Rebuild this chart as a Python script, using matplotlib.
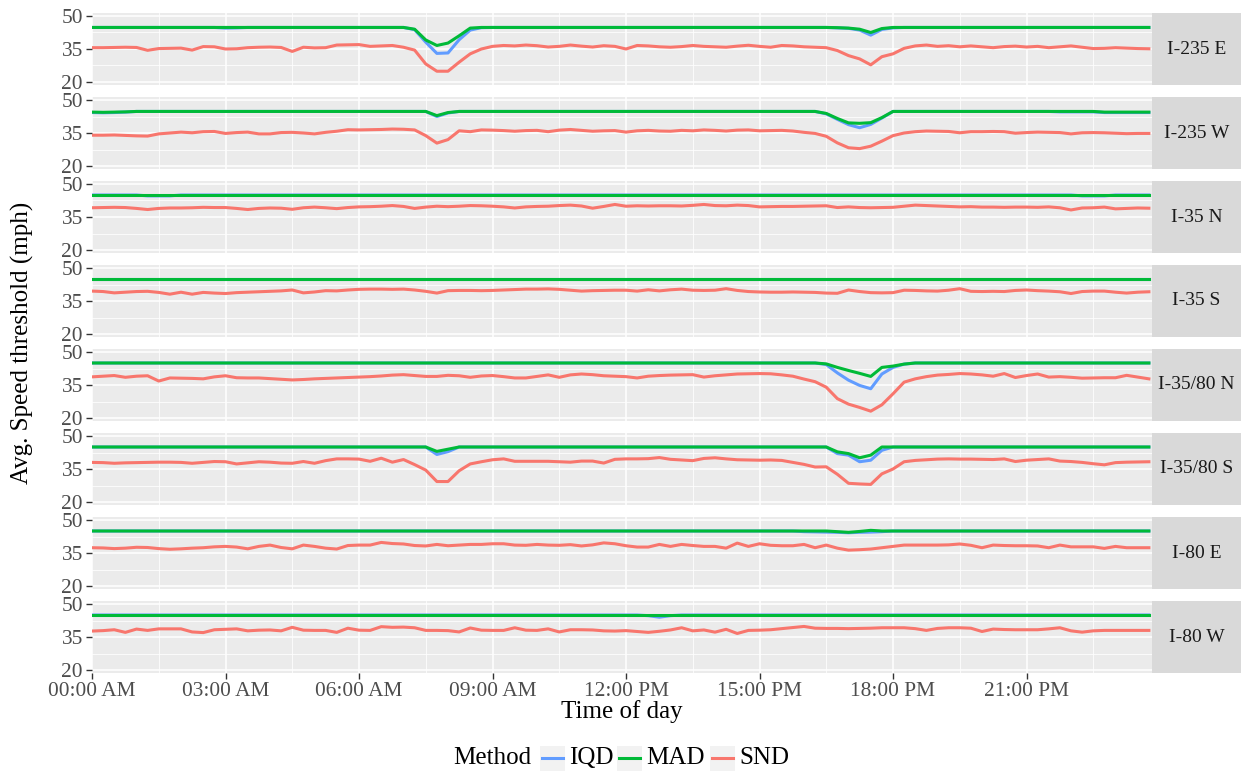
import numpy as np
import matplotlib
matplotlib.use('Agg')
from matplotlib import rcParams

rcParams['font.family'] = 'serif'
rcParams['font.serif'] = ['Liberation Serif', 'DejaVu Serif']

import matplotlib.pyplot as plt
from matplotlib.patches import Rectangle
from matplotlib.lines import Line2D

# ############################################################
# data: 15 minute bins over one day, hours since midnight
# ############################################################
time_hours = np.arange(96) * 0.25

tick_hours = [0, 3, 6, 9, 12, 15, 18, 21]
tick_labels = ['00:00 AM', '03:00 AM', '06:00 AM', '09:00 AM',
               '12:00 PM', '15:00 PM', '18:00 PM', '21:00 PM']
minor_hours = [1.5, 4.5, 7.5, 10.5, 13.5, 16.5, 19.5, 22.5]

roads = ['I-235 E', 'I-235 W', 'I-35 N', 'I-35 S',
         'I-35/80 N', 'I-35/80 S', 'I-80 E', 'I-80 W']
methods = ['IQD', 'MAD', 'SND']
method_colors = ['#619CFF', '#00BA38', '#F8766D']

# ---- I-235 E
snd_i235e = [35.6, 35.6, 35.7, 35.8, 35.7, 34.4, 35.2, 35.3, 35.4, 34.5, 36.1, 36.0,
             35.0, 35.1, 35.6, 35.8, 35.9, 35.7, 33.9, 35.8, 35.5, 35.6, 36.8, 36.9,
             37.0, 36.2, 36.4, 36.6, 35.8, 34.5, 28.2, 24.9, 24.9, 29.0, 32.8, 35.0,
             36.2, 36.6, 36.4, 36.8, 36.5, 35.9, 36.2, 36.8, 36.3, 35.9, 36.5, 36.2,
             35.0, 36.6, 36.4, 36.0, 35.8, 36.1, 36.6, 36.2, 36.0, 35.8, 36.3, 36.7,
             36.2, 35.8, 36.6, 36.4, 36.0, 35.8, 35.6, 34.3, 32.0, 30.5, 27.8, 31.5,
             32.8, 35.3, 36.4, 36.8, 36.2, 36.5, 36.0, 36.4, 36.0, 35.6, 36.1, 36.3,
             35.9, 36.2, 35.6, 36.0, 36.4, 35.8, 35.2, 35.3, 35.6, 35.4, 35.2, 35.1]
mad_i235e = [44.8, 44.8, 44.8, 44.8, 44.8, 44.8, 44.8, 44.8, 44.8, 44.8, 44.8, 44.8,
             44.8, 44.8, 44.8, 44.8, 44.8, 44.8, 44.8, 44.8, 44.8, 44.8, 44.8, 44.8,
             44.8, 44.8, 44.8, 44.8, 44.8, 44.0, 39.1, 36.6, 37.7, 41.0, 44.5, 44.8,
             44.8, 44.8, 44.8, 44.8, 44.8, 44.8, 44.8, 44.8, 44.8, 44.8, 44.8, 44.8,
             44.8, 44.8, 44.8, 44.8, 44.8, 44.8, 44.8, 44.8, 44.8, 44.8, 44.8, 44.8,
             44.8, 44.8, 44.8, 44.8, 44.8, 44.8, 44.8, 44.7, 44.5, 44.0, 42.5, 44.3,
             44.8, 44.8, 44.8, 44.8, 44.8, 44.8, 44.8, 44.8, 44.8, 44.8, 44.8, 44.8,
             44.8, 44.8, 44.8, 44.8, 44.8, 44.8, 44.8, 44.8, 44.8, 44.8, 44.8, 44.8]
iqd_i235e = [44.8, 44.8, 44.8, 44.8, 44.8, 44.8, 44.8, 44.8, 44.8, 44.8, 44.8, 44.8,
             44.5, 44.6, 44.8, 44.8, 44.8, 44.8, 44.8, 44.8, 44.8, 44.8, 44.8, 44.8,
             44.8, 44.8, 44.8, 44.8, 44.8, 43.8, 38.1, 33.0, 33.2, 39.2, 43.6, 44.7,
             44.8, 44.8, 44.8, 44.8, 44.8, 44.8, 44.8, 44.8, 44.8, 44.8, 44.8, 44.8,
             44.8, 44.8, 44.8, 44.8, 44.8, 44.8, 44.8, 44.8, 44.8, 44.8, 44.8, 44.8,
             44.8, 44.8, 44.8, 44.8, 44.8, 44.8, 44.8, 44.6, 44.4, 43.6, 41.3, 43.9,
             44.6, 44.8, 44.8, 44.8, 44.8, 44.8, 44.8, 44.8, 44.8, 44.8, 44.8, 44.8,
             44.8, 44.8, 44.8, 44.8, 44.8, 44.8, 44.8, 44.8, 44.8, 44.8, 44.8, 44.8]

# ---- I-235 W
snd_i235w = [34.0, 34.0, 34.1, 33.9, 33.7, 33.6, 34.6, 35.0, 35.4, 35.1, 35.6, 35.7,
             34.8, 35.2, 35.4, 34.6, 34.6, 35.2, 35.3, 35.0, 34.6, 35.3, 35.8, 36.5,
             36.4, 36.5, 36.6, 36.8, 36.7, 36.4, 33.8, 30.4, 32.0, 36.0, 35.6, 36.4,
             36.3, 36.1, 35.8, 36.1, 36.2, 35.6, 36.3, 36.6, 36.2, 35.8, 36.0, 36.1,
             35.4, 36.0, 36.2, 35.9, 35.8, 36.2, 36.0, 36.4, 36.2, 35.9, 36.3, 36.4,
             36.0, 36.1, 36.2, 35.9, 35.3, 34.8, 33.5, 30.5, 28.3, 27.9, 29.0, 31.3,
             33.8, 35.0, 35.6, 35.9, 35.8, 35.7, 35.1, 35.6, 35.6, 35.7, 35.6, 34.9,
             35.2, 35.4, 35.3, 35.2, 34.6, 35.1, 35.2, 35.1, 34.9, 34.7, 34.8, 34.8]
mad_i235w = [44.5, 44.4, 44.5, 44.6, 44.8, 44.8, 44.8, 44.8, 44.8, 44.8, 44.8, 44.8,
             44.8, 44.8, 44.8, 44.8, 44.8, 44.8, 44.8, 44.8, 44.8, 44.8, 44.8, 44.8,
             44.8, 44.8, 44.8, 44.8, 44.8, 44.8, 44.8, 42.9, 44.3, 44.8, 44.8, 44.8,
             44.8, 44.8, 44.8, 44.8, 44.8, 44.8, 44.8, 44.8, 44.8, 44.8, 44.8, 44.8,
             44.8, 44.8, 44.8, 44.8, 44.8, 44.8, 44.8, 44.8, 44.8, 44.8, 44.8, 44.8,
             44.8, 44.8, 44.8, 44.8, 44.8, 44.8, 43.9, 41.6, 39.6, 39.4, 39.7, 42.0,
             44.8, 44.8, 44.8, 44.8, 44.8, 44.8, 44.8, 44.8, 44.8, 44.8, 44.8, 44.8,
             44.8, 44.8, 44.8, 44.8, 44.8, 44.8, 44.8, 44.5, 44.5, 44.5, 44.5, 44.5]
iqd_i235w = [44.3, 44.2, 44.3, 44.5, 44.8, 44.8, 44.8, 44.8, 44.8, 44.8, 44.8, 44.8,
             44.8, 44.8, 44.8, 44.8, 44.8, 44.8, 44.8, 44.8, 44.8, 44.8, 44.8, 44.8,
             44.8, 44.8, 44.8, 44.8, 44.8, 44.8, 44.8, 42.5, 44.1, 44.8, 44.8, 44.8,
             44.8, 44.8, 44.8, 44.8, 44.8, 44.8, 44.8, 44.8, 44.8, 44.8, 44.8, 44.8,
             44.8, 44.8, 44.8, 44.8, 44.8, 44.8, 44.8, 44.8, 44.8, 44.8, 44.8, 44.8,
             44.8, 44.8, 44.8, 44.8, 44.8, 44.8, 43.7, 41.2, 38.8, 37.4, 38.9, 41.8,
             44.8, 44.8, 44.8, 44.8, 44.8, 44.8, 44.8, 44.8, 44.8, 44.8, 44.8, 44.8,
             44.8, 44.8, 44.8, 44.6, 44.6, 44.6, 44.6, 44.3, 44.3, 44.3, 44.3, 44.3]

# ---- I-35 N
snd_i35n = [39.2, 39.3, 39.4, 39.3, 38.9, 38.4, 38.9, 39.1, 39.1, 39.2, 39.4, 39.3,
            39.3, 38.9, 38.4, 38.9, 39.1, 39.0, 38.5, 39.2, 39.5, 39.2, 38.8, 39.3,
            39.6, 39.7, 39.9, 40.2, 39.8, 38.9, 39.5, 39.9, 39.7, 39.9, 40.2, 40.1,
            39.9, 39.6, 39.1, 39.6, 39.8, 39.9, 40.2, 40.4, 40.0, 39.0, 39.8, 40.7,
            39.9, 40.1, 40.0, 40.1, 40.1, 40.0, 40.3, 40.7, 40.2, 40.1, 40.4, 40.2,
            39.6, 39.7, 39.8, 39.8, 39.9, 40.0, 40.1, 39.3, 39.6, 39.3, 39.2, 39.3,
            39.4, 39.9, 40.4, 40.2, 40.0, 39.8, 39.6, 39.7, 39.5, 39.5, 39.4, 39.5,
            39.5, 39.4, 39.6, 39.2, 38.2, 39.1, 39.2, 39.5, 38.7, 38.9, 39.1, 39.0]
mad_i35n = [45.0] * 96
iqd_i35n = [45.0, 45.0, 45.0, 45.0, 45.0, 44.6, 44.6, 44.6, 45.0, 45.0, 45.0, 45.0,
            45.0, 45.0, 45.0, 45.0, 45.0, 45.0, 45.0, 45.0, 45.0, 45.0, 45.0, 45.0,
            45.0, 45.0, 45.0, 45.0, 45.0, 45.0, 45.0, 45.0, 45.0, 45.0, 45.0, 45.0,
            45.0, 45.0, 45.0, 45.0, 45.0, 45.0, 45.0, 45.0, 45.0, 45.0, 45.0, 45.0,
            45.0, 45.0, 45.0, 45.0, 45.0, 45.0, 45.0, 45.0, 45.0, 45.0, 45.0, 45.0,
            45.0, 45.0, 45.0, 45.0, 45.0, 45.0, 45.0, 45.0, 45.0, 45.0, 45.0, 45.0,
            45.0, 45.0, 45.0, 45.0, 45.0, 45.0, 45.0, 45.0, 45.0, 45.0, 45.0, 45.0,
            45.0, 45.0, 45.0, 45.0, 45.0, 44.6, 44.6, 44.6, 45.0, 45.0, 45.0, 45.0]

# ---- I-35 S
snd_i35s = [39.5, 39.3, 38.7, 39.0, 39.3, 39.4, 38.9, 38.1, 39.0, 38.1, 38.9, 38.6,
            38.4, 38.8, 39.0, 39.2, 39.4, 39.6, 40.0, 38.7, 39.1, 39.7, 39.6, 40.0,
            40.3, 40.4, 40.4, 40.3, 40.4, 40.0, 39.4, 38.6, 39.7, 39.8, 39.8, 39.7,
            39.8, 40.0, 40.2, 40.4, 40.4, 40.5, 40.3, 39.9, 39.5, 39.7, 39.8, 39.9,
            39.9, 39.5, 40.1, 39.6, 40.1, 40.4, 39.9, 39.8, 39.9, 40.6, 39.8, 39.3,
            39.1, 39.0, 39.0, 39.1, 39.0, 38.9, 38.6, 38.5, 40.0, 39.3, 38.8, 38.7,
            38.8, 39.9, 39.8, 39.6, 39.5, 39.9, 40.6, 39.4, 39.3, 39.4, 39.3, 39.8,
            40.0, 39.7, 39.5, 39.2, 38.4, 39.3, 39.5, 39.5, 39.0, 38.6, 39.0, 39.2]
mad_i35s = [45.0] * 96
iqd_i35s = [45.0] * 96

# ---- I-35/80 N
snd_i3580n = [38.7, 39.0, 39.3, 38.5, 39.0, 39.2, 36.8, 38.2, 38.1, 38.0, 37.8, 38.7,
              39.2, 38.3, 38.2, 38.2, 37.9, 37.6, 37.3, 37.5, 37.8, 38.0, 38.2, 38.4,
              38.6, 38.8, 39.1, 39.5, 39.7, 39.3, 38.9, 38.9, 39.4, 39.2, 38.5, 39.1,
              39.3, 38.8, 38.2, 38.2, 38.9, 39.6, 38.5, 39.6, 40.0, 39.7, 39.2, 39.0,
              38.8, 38.2, 39.0, 39.3, 39.5, 39.6, 39.7, 38.6, 39.2, 39.6, 40.0, 40.1,
              40.2, 40.1, 39.6, 39.0, 37.7, 36.5, 34.0, 28.8, 26.3, 24.8, 23.1, 26.0,
              31.0, 36.3, 37.8, 38.8, 39.5, 39.8, 40.2, 40.0, 39.6, 39.0, 40.2, 38.4,
              39.3, 40.0, 38.6, 38.8, 38.5, 38.1, 38.2, 38.3, 38.3, 39.4, 38.6, 37.8]
mad_i3580n = [45.0, 45.0, 45.0, 45.0, 45.0, 45.0, 45.0, 45.0, 45.0, 45.0, 45.0, 45.0,
              45.0, 45.0, 45.0, 45.0, 45.0, 45.0, 45.0, 45.0, 45.0, 45.0, 45.0, 45.0,
              45.0, 45.0, 45.0, 45.0, 45.0, 45.0, 45.0, 45.0, 45.0, 45.0, 45.0, 45.0,
              45.0, 45.0, 45.0, 45.0, 45.0, 45.0, 45.0, 45.0, 45.0, 45.0, 45.0, 45.0,
              45.0, 45.0, 45.0, 45.0, 45.0, 45.0, 45.0, 45.0, 45.0, 45.0, 45.0, 45.0,
              45.0, 45.0, 45.0, 45.0, 45.0, 45.0, 44.6, 43.0, 41.6, 40.3, 38.9, 43.0,
              43.6, 44.5, 45.0, 45.0, 45.0, 45.0, 45.0, 45.0, 45.0, 45.0, 45.0, 45.0,
              45.0, 45.0, 45.0, 45.0, 45.0, 45.0, 45.0, 45.0, 45.0, 45.0, 45.0, 45.0]
iqd_i3580n = [45.0, 45.0, 45.0, 45.0, 45.0, 45.0, 45.0, 45.0, 45.0, 45.0, 45.0, 45.0,
              45.0, 45.0, 45.0, 45.0, 45.0, 45.0, 45.0, 45.0, 45.0, 45.0, 45.0, 45.0,
              45.0, 45.0, 45.0, 45.0, 45.0, 45.0, 45.0, 45.0, 45.0, 45.0, 45.0, 45.0,
              45.0, 45.0, 45.0, 45.0, 45.0, 45.0, 45.0, 45.0, 45.0, 45.0, 45.0, 45.0,
              45.0, 45.0, 45.0, 45.0, 45.0, 45.0, 45.0, 45.0, 45.0, 45.0, 45.0, 45.0,
              45.0, 45.0, 45.0, 45.0, 45.0, 45.0, 44.3, 40.5, 37.2, 34.8, 33.3, 40.0,
              43.0, 44.5, 45.0, 45.0, 45.0, 45.0, 45.0, 45.0, 45.0, 45.0, 45.0, 45.0,
              45.0, 45.0, 45.0, 45.0, 45.0, 45.0, 45.0, 45.0, 45.0, 45.0, 45.0, 45.0]

# ---- I-35/80 S
snd_i3580s = [38.0, 37.9, 37.6, 37.8, 37.9, 38.0, 38.1, 38.1, 38.0, 37.6, 38.0, 38.4,
              38.3, 37.3, 37.8, 38.3, 38.1, 37.7, 37.6, 38.4, 37.6, 38.8, 39.6, 39.6,
              39.5, 38.5, 39.9, 38.1, 39.3, 37.0, 34.5, 29.3, 29.3, 34.2, 37.3, 38.3,
              39.2, 39.6, 38.5, 38.5, 38.5, 38.5, 38.3, 38.1, 38.6, 38.6, 37.7, 39.4,
              39.6, 39.6, 39.7, 40.2, 39.4, 39.1, 38.8, 39.8, 40.1, 39.6, 39.2, 39.1,
              39.0, 39.1, 38.9, 38.0, 37.1, 35.9, 36.0, 32.6, 28.5, 28.2, 28.0, 32.8,
              35.0, 38.3, 38.9, 39.2, 39.5, 39.6, 39.5, 39.5, 39.4, 39.3, 39.6, 38.4,
              39.0, 39.3, 39.6, 38.6, 38.4, 38.0, 37.4, 36.9, 37.9, 38.1, 38.2, 38.3]
mad_i3580s = [45.0, 45.0, 45.0, 45.0, 45.0, 45.0, 45.0, 45.0, 45.0, 45.0, 45.0, 45.0,
              45.0, 45.0, 45.0, 45.0, 45.0, 45.0, 45.0, 45.0, 45.0, 45.0, 45.0, 45.0,
              45.0, 45.0, 45.0, 45.0, 45.0, 45.0, 45.0, 43.0, 44.0, 45.0, 45.0, 45.0,
              45.0, 45.0, 45.0, 45.0, 45.0, 45.0, 45.0, 45.0, 45.0, 45.0, 45.0, 45.0,
              45.0, 45.0, 45.0, 45.0, 45.0, 45.0, 45.0, 45.0, 45.0, 45.0, 45.0, 45.0,
              45.0, 45.0, 45.0, 45.0, 45.0, 45.0, 45.0, 42.8, 42.0, 40.1, 41.3, 45.0,
              45.0, 45.0, 45.0, 45.0, 45.0, 45.0, 45.0, 45.0, 45.0, 45.0, 45.0, 45.0,
              45.0, 45.0, 45.0, 45.0, 45.0, 45.0, 45.0, 45.0, 45.0, 45.0, 45.0, 45.0]
iqd_i3580s = [45.0, 45.0, 45.0, 45.0, 45.0, 45.0, 45.0, 45.0, 45.0, 45.0, 45.0, 45.0,
              45.0, 45.0, 45.0, 45.0, 45.0, 45.0, 45.0, 45.0, 45.0, 45.0, 45.0, 45.0,
              45.0, 45.0, 45.0, 45.0, 45.0, 45.0, 45.0, 41.6, 42.9, 45.0, 45.0, 45.0,
              45.0, 45.0, 45.0, 45.0, 45.0, 45.0, 45.0, 45.0, 45.0, 45.0, 45.0, 45.0,
              45.0, 45.0, 45.0, 45.0, 45.0, 45.0, 45.0, 45.0, 45.0, 45.0, 45.0, 45.0,
              45.0, 45.0, 45.0, 45.0, 45.0, 45.0, 45.0, 42.0, 41.3, 38.3, 39.0, 43.5,
              45.0, 45.0, 45.0, 45.0, 45.0, 45.0, 45.0, 45.0, 45.0, 45.0, 45.0, 45.0,
              45.0, 45.0, 45.0, 45.0, 45.0, 45.0, 45.0, 45.0, 45.0, 45.0, 45.0, 45.0]

# ---- I-80 E
snd_i80e = [37.4, 37.3, 37.0, 37.2, 37.6, 37.5, 37.0, 36.7, 36.9, 37.2, 37.4, 37.8,
            38.0, 37.7, 36.9, 38.0, 38.6, 37.5, 36.9, 38.6, 38.0, 37.2, 36.8, 38.4,
            38.6, 38.6, 39.8, 39.3, 39.1, 38.4, 38.2, 38.9, 38.3, 38.6, 38.9, 38.9,
            39.2, 39.2, 38.6, 38.5, 38.9, 38.6, 38.5, 38.8, 38.2, 38.7, 39.6, 39.2,
            38.3, 37.7, 37.7, 38.9, 38.0, 38.9, 38.4, 38.0, 38.0, 37.2, 39.5, 38.0,
            39.2, 38.5, 38.3, 38.3, 38.9, 37.4, 38.6, 37.2, 36.3, 36.5, 36.8, 37.4,
            38.0, 38.6, 38.6, 38.6, 38.6, 38.7, 39.1, 38.5, 37.4, 38.6, 38.4, 38.3,
            38.3, 38.2, 37.4, 38.6, 37.8, 37.8, 37.8, 37.1, 38.0, 37.4, 37.4, 37.4]
mad_i80e = [45.0, 45.0, 45.0, 45.0, 45.0, 45.0, 45.0, 45.0, 45.0, 45.0, 45.0, 45.0,
            45.0, 45.0, 45.0, 45.0, 45.0, 45.0, 45.0, 45.0, 45.0, 45.0, 45.0, 45.0,
            45.0, 45.0, 45.0, 45.0, 45.0, 45.0, 45.0, 45.0, 45.0, 45.0, 45.0, 45.0,
            45.0, 45.0, 45.0, 45.0, 45.0, 45.0, 45.0, 45.0, 45.0, 45.0, 45.0, 45.0,
            45.0, 45.0, 45.0, 45.0, 45.0, 45.0, 45.0, 45.0, 45.0, 45.0, 45.0, 45.0,
            45.0, 45.0, 45.0, 45.0, 45.0, 45.0, 45.0, 44.7, 44.4, 44.8, 45.3, 45.0,
            45.0, 45.0, 45.0, 45.0, 45.0, 45.0, 45.0, 45.0, 45.0, 45.0, 45.0, 45.0,
            45.0, 45.0, 45.0, 45.0, 45.0, 45.0, 45.0, 45.0, 45.0, 45.0, 45.0, 45.0]
iqd_i80e = [45.0, 45.0, 45.0, 45.0, 45.0, 45.0, 45.0, 45.0, 45.0, 45.0, 45.0, 45.0,
            45.0, 45.0, 45.0, 45.0, 45.0, 45.0, 45.0, 45.0, 45.0, 45.0, 45.0, 45.0,
            45.0, 45.0, 45.0, 45.0, 45.0, 45.0, 45.0, 45.0, 45.0, 45.0, 45.0, 45.0,
            45.0, 45.0, 45.0, 45.0, 45.0, 45.0, 45.0, 45.0, 45.0, 45.0, 45.0, 45.0,
            45.0, 45.0, 45.0, 45.0, 45.0, 45.0, 45.0, 45.0, 45.0, 45.0, 45.0, 45.0,
            45.0, 45.0, 45.0, 45.0, 44.7, 44.6, 44.5, 44.4, 44.2, 44.4, 44.5, 44.7,
            45.0, 45.0, 45.0, 45.0, 45.0, 45.0, 45.0, 45.0, 45.0, 45.0, 45.0, 45.0,
            45.0, 45.0, 45.0, 45.0, 45.0, 45.0, 45.0, 45.0, 45.0, 45.0, 45.0, 45.0]

# ---- I-80 W
snd_i80w = [37.7, 37.9, 38.3, 37.1, 38.6, 38.0, 38.7, 38.7, 38.7, 37.3, 37.0, 38.3,
            38.5, 38.7, 37.8, 38.1, 38.2, 37.8, 39.4, 38.1, 38.0, 38.0, 37.1, 39.0,
            38.1, 38.0, 39.7, 39.4, 39.5, 39.2, 38.0, 38.0, 37.9, 37.3, 39.1, 38.1,
            38.0, 38.0, 39.2, 38.1, 38.0, 38.7, 37.3, 38.3, 38.3, 38.2, 37.8, 37.7,
            37.9, 37.5, 37.1, 37.6, 38.2, 39.2, 37.8, 38.2, 37.2, 38.5, 36.6, 38.0,
            38.1, 38.3, 38.8, 39.3, 39.8, 39.0, 38.9, 38.9, 38.8, 38.9, 39.0, 39.2,
            39.2, 39.2, 38.8, 38.0, 38.9, 39.2, 39.2, 39.0, 37.5, 38.6, 38.4, 38.3,
            38.3, 38.3, 38.7, 39.2, 37.8, 37.2, 37.8, 38.0, 38.0, 38.0, 38.0, 38.0]
mad_i80w = [45.0] * 96
iqd_i80w = [45.0, 45.0, 45.0, 45.0, 45.0, 45.0, 45.0, 45.0, 45.0, 45.0, 45.0, 45.0,
            45.0, 45.0, 45.0, 45.0, 45.0, 45.0, 45.0, 45.0, 45.0, 45.0, 45.0, 45.0,
            45.0, 45.0, 45.0, 45.0, 45.0, 45.0, 45.0, 45.0, 45.0, 45.0, 45.0, 45.0,
            45.0, 45.0, 45.0, 45.0, 45.0, 45.0, 45.0, 45.0, 45.0, 45.0, 45.0, 45.0,
            45.0, 45.0, 44.7, 44.0, 44.7, 45.0, 45.0, 45.0, 45.0, 45.0, 45.0, 45.0,
            45.0, 45.0, 45.0, 45.0, 45.0, 45.0, 45.0, 45.0, 45.0, 45.0, 45.0, 45.0,
            45.0, 45.0, 45.0, 45.0, 45.0, 45.0, 45.0, 45.0, 45.0, 45.0, 45.0, 45.0,
            45.0, 45.0, 45.0, 45.0, 45.0, 45.0, 45.0, 45.0, 45.0, 45.0, 45.0, 45.0]

# order of series per panel follows `methods`
panel_series = [
    (iqd_i235e, mad_i235e, snd_i235e),
    (iqd_i235w, mad_i235w, snd_i235w),
    (iqd_i35n, mad_i35n, snd_i35n),
    (iqd_i35s, mad_i35s, snd_i35s),
    (iqd_i3580n, mad_i3580n, snd_i3580n),
    (iqd_i3580s, mad_i3580s, snd_i3580s),
    (iqd_i80e, mad_i80e, snd_i80e),
    (iqd_i80w, mad_i80w, snd_i80w),
]

# ############################################################
# layout (pixels of a 1241 x 774 canvas)
# ############################################################
W, H = 1241.0, 774.0
left_px, right_px = 92.0, 1152.0
strip_w = 89.0
top_px = 12.7
panel_h = 72.6
gap_px = 11.4

panel_bg = '#EBEBEB'
strip_bg = '#D9D9D9'
tick_col = '#4D4D4D'


def draw_panel(fig, k, road, series, bottom):
    y_top = top_px + k * (panel_h + gap_px)
    rect = [left_px / W, 1 - (y_top + panel_h) / H, (right_px - left_px) / W, panel_h / H]
    ax = fig.add_axes(rect)
    ax.set_facecolor(panel_bg)
    for sp in ax.spines.values():
        sp.set_visible(False)

    for vals, col in zip(series, method_colors):
        ax.plot(time_hours, vals, color=col, lw=2.2, solid_joinstyle='round')

    ax.set_xlim(0, (right_px - left_px) / 44.5)
    ax.set_ylim(18.5, 51.5)
    ax.set_yticks([20, 35, 50])
    ax.set_yticks([27.5, 42.5], minor=True)
    ax.set_xticks(tick_hours)
    ax.set_xticks(minor_hours, minor=True)
    ax.grid(which='major', color='white', lw=1.1)
    ax.grid(which='minor', color='white', lw=0.55)
    ax.set_axisbelow(True)

    ax.tick_params(axis='y', which='major', length=4, width=1, color='#333333',
                   labelsize=15.4, labelcolor=tick_col, pad=2.5)
    ax.tick_params(which='minor', length=0)
    if bottom:
        ax.set_xticklabels(tick_labels)
        ax.tick_params(axis='x', which='major', length=4, width=1, color='#333333',
                       labelsize=15.4, labelcolor=tick_col, pad=2.0)
    else:
        ax.tick_params(axis='x', which='major', length=0, labelbottom=False)

    # facet strip on the right
    sax = fig.add_axes([right_px / W, rect[1], strip_w / W, panel_h / H])
    sax.set_facecolor(strip_bg)
    sax.set_xticks([])
    sax.set_yticks([])
    for sp in sax.spines.values():
        sp.set_visible(False)
    sax.text(0.5, 0.5, road, ha='center', va='center', fontsize=14,
             color='#1A1A1A', transform=sax.transAxes)
    return ax


def draw_legend(fig):
    yc = 1 - 758 / H
    fig.text(453 / W, yc, 'Method', ha='left', va='center', fontsize=18)
    key_x = [540, 617, 710]
    key_w, key_h = 25.0, 25.0
    for name, col, kx in zip(methods, method_colors, key_x):
        fig.patches.append(Rectangle((kx / W, yc - key_h / 2 / H), key_w / W, key_h / H,
                                     transform=fig.transFigure, facecolor='#F2F2F2',
                                     edgecolor='none'))
        fig.lines.append(Line2D([(kx + 2) / W, (kx + key_w - 2) / W], [yc, yc],
                                transform=fig.transFigure, color=col, lw=2.2))
        fig.text((kx + key_w + 4) / W, yc, name, ha='left', va='center', fontsize=18)


def main():
    fig = plt.figure(figsize=(W / 100, H / 100), dpi=100)
    for k, road in enumerate(roads):
        draw_panel(fig, k, road, panel_series[k], k == len(roads) - 1)

    fig.text(22 / W, 1 - 343 / H, 'Avg. Speed threshold (mph)', rotation=90,
             ha='center', va='center', fontsize=18)
    fig.text((left_px + right_px) / 2 / W, 1 - 712 / H, 'Time of day',
             ha='center', va='center', fontsize=18)
    draw_legend(fig)

    fig.savefig('out.png', dpi=100)


if __name__ == '__main__':
    main()
